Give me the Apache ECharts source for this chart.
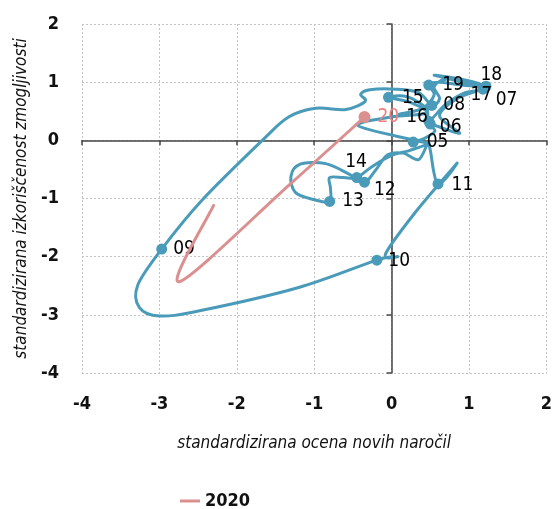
<!DOCTYPE html>
<html>
<head>
<meta charset="utf-8">
<script src="https://cdn.jsdelivr.net/npm/echarts@6/dist/echarts.min.js"></script>
<style>
  html, body { margin: 0; padding: 0; background: #ffffff; }
  #chart { width: 555px; height: 509px; }
</style>
</head>
<body>
<div id="chart"></div>
<script>
// Axis ranges
const xRange = [-4, 2];
const yRange = [-4, 2];

// Year markers of the 2005–2019 path (new orders score, capacity utilisation score)
const yearLabels = ['05', '06', '07', '08', '09', '10', '11', '12', '13', '14', '15', '16', '17', '18', '19'];
const yearPoints = [
  [0.28, -0.03], [0.50, 0.28], [1.21, 0.91], [0.52, 0.60], [-2.97, -1.87],
  [-0.19, -2.06], [0.60, -0.75], [-0.35, -0.72], [-0.80, -1.05], [-0.45, -0.64],
  [-0.04, 0.74], [0.48, 0.33], [1.18, 0.88], [1.22, 0.93], [0.48, 0.95]
];

// Readings between one year marker and the next
const pathBetween = [
  [[0.42, 0.03], [0.56, 0.16]],
  [[0.88, 0.12], [0.62, 0.42], [0.85, 0.72]],
  [[1.00, 1.00], [0.70, 1.05], [0.55, 0.92], [0.62, 0.72]],
  [[0.35, 0.82], [0.05, 0.88], [-0.28, 0.87], [-0.40, 0.79], [-0.34, 0.67], [-0.59, 0.53],
   [-0.98, 0.55], [-1.33, 0.40], [-1.67, 0.00], [-2.45, -1.03]],
  [[-3.28, -2.49], [-3.26, -2.87], [-3.00, -3.02], [-2.48, -2.93], [-1.20, -2.53]],
  [[0.08, -2.00], [-0.08, -1.96], [0.30, -1.25], [0.84, -0.40]],
  [[0.50, -0.17], [0.47, -0.05], [0.35, -0.33], [0.15, -0.22], [-0.05, -0.25], [-0.20, -0.50]],
  [[-0.55, -0.58], [-0.85, -0.40], [-1.18, -0.41], [-1.30, -0.62], [-1.24, -0.90], [-1.00, -1.02]],
  [[-0.79, -0.82], [-0.80, -0.64], [-0.62, -0.64]],
  [[-0.25, -0.45], [0.00, -0.26], [0.22, -0.18], [0.46, -0.06], [0.30, 0.00], [-0.43, 0.25],
   [0.00, 0.40], [0.45, 0.47], [0.25, 0.65]],
  [[0.20, 0.75], [0.45, 0.55]],
  [[0.70, 0.62], [0.95, 0.82]],
  [[0.85, 1.02], [0.55, 1.12], [0.90, 1.05]],
  [[0.90, 0.95], [0.62, 1.00]],
  [[0.55, 0.78], [0.40, 0.55], [0.10, 0.45]]
];

// 2020 readings
const label2020 = '20';
const points2020 = [[-0.35, 0.40], [-1.30, -0.74], [-2.74, -2.43], [-2.30, -1.12]];

// Label nudges (px) for each year tag
const labelShift = [
  [3, 0], [-1, 3], [0, 13], [1, 0], [1, 0],
  [1, 1], [3, 1], [-1, 8], [2, 0], [-22, -15],
  [3, 1], [-33, -4], [-23, 6], [-16, -11], [3, 0]
];
const shift2020 = [2, 0];

const FONT = "'Liberation Sans Narrow', 'DejaVu Sans Condensed', sans-serif";
const BLUE = '#4a9aba';
const PINK = '#db8f8f';

// Full blue path in time order
const bluePath = [];
yearPoints.forEach((p, i) => {
  bluePath.push(p);
  pathBetween[i].forEach(q => bluePath.push(q));
});

// Smooth curve through the points (cubic Bézier, tangents from neighbouring points)
function curveRenderer(points, color) {
  return function (params, api) {
    if (params.dataIndex !== 0) return null;
    const px = points.map(p => api.coord(p));
    const k = 1 / 6;
    let d = 'M' + px[0][0] + ' ' + px[0][1];
    for (let i = 0; i < px.length - 1; i++) {
      const p0 = px[i - 1] || px[i];
      const p1 = px[i];
      const p2 = px[i + 1];
      const p3 = px[i + 2] || p2;
      const c1x = p1[0] + (p2[0] - p0[0]) * k, c1y = p1[1] + (p2[1] - p0[1]) * k;
      const c2x = p2[0] - (p3[0] - p1[0]) * k, c2y = p2[1] - (p3[1] - p1[1]) * k;
      d += ' C' + c1x + ' ' + c1y + ' ' + c2x + ' ' + c2y + ' ' + p2[0] + ' ' + p2[1];
    }
    return {
      type: 'path',
      shape: { pathData: d },
      style: { fill: 'none', stroke: color, lineWidth: 3, lineCap: 'round', lineJoin: 'round' }
    };
  };
}

const gridLine = { show: true, lineStyle: { color: '#c4c4c4', type: [2, 2], width: 1 } };
const tickLabel = { color: '#111', fontFamily: FONT, fontSize: 18, fontWeight: 'bold' };
const labelFont = { fontFamily: FONT, fontSize: 19 };

const chart = echarts.init(document.getElementById('chart'), null, { renderer: 'canvas' });
chart.setOption({
  animation: false,
  backgroundColor: '#ffffff',
  grid: { left: 82, right: 7, top: 24, bottom: 136, containLabel: false },
  xAxis: [
    {
      type: 'value', min: xRange[0], max: xRange[1], interval: 1, position: 'bottom',
      axisLine: { show: false, onZero: false }, axisTick: { show: false },
      axisLabel: Object.assign({ margin: 22 }, tickLabel),
      splitLine: gridLine,
      name: 'standardizirana ocena novih naročil', nameLocation: 'middle', nameGap: 62,
      nameTextStyle: { color: '#111', fontFamily: FONT, fontSize: 17, fontStyle: 'italic' }
    },
    {
      type: 'value', min: xRange[0], max: xRange[1], interval: 1, position: 'bottom',
      axisLine: { show: true, onZero: true, onZeroAxisIndex: 1, lineStyle: { color: '#444', width: 1.5 } },
      axisTick: { show: true, length: 5, lineStyle: { color: '#444', width: 1.5 } },
      axisLabel: { show: false }, splitLine: { show: false }
    }
  ],
  yAxis: [
    {
      type: 'value', min: yRange[0], max: yRange[1], interval: 1, position: 'left',
      axisLine: { show: false, onZero: false }, axisTick: { show: false },
      axisLabel: Object.assign({ margin: 23 }, tickLabel),
      splitLine: gridLine,
      name: 'standardizirana izkoriščenost zmogljivosti', nameLocation: 'middle', nameGap: 50,
      nameTextStyle: { color: '#111', fontFamily: FONT, fontSize: 17, fontStyle: 'italic' }
    },
    {
      type: 'value', min: yRange[0], max: yRange[1], interval: 1, position: 'left',
      axisLine: { show: true, onZero: true, onZeroAxisIndex: 1, lineStyle: { color: '#444', width: 1.5 } },
      axisTick: { show: true, length: 5, lineStyle: { color: '#444', width: 1.5 } },
      axisLabel: { show: false }, splitLine: { show: false }
    }
  ],
  legend: {
    data: [{ name: '2020', icon: 'rect' }], left: 180, top: 492, padding: 0,
    itemWidth: 20, itemHeight: 3, itemGap: 6,
    textStyle: { color: '#111', fontFamily: FONT, fontSize: 18, fontWeight: 'bold' }
  },
  series: [
    {
      name: '2005–2019', type: 'custom', xAxisIndex: 0, yAxisIndex: 0,
      data: bluePath, renderItem: curveRenderer(bluePath, BLUE),
      itemStyle: { color: BLUE }, z: 3, silent: true
    },
    {
      name: '2005–2019', type: 'scatter', xAxisIndex: 0, yAxisIndex: 0,
      data: yearPoints.map((p, i) => ({
        value: p,
        label: { show: true, formatter: yearLabels[i], offset: labelShift[i] }
      })),
      symbol: 'circle', symbolSize: 11, itemStyle: { color: BLUE, opacity: 1 },
      label: Object.assign({ position: 'right', distance: 5, color: '#000' }, labelFont),
      z: 5
    },
    {
      name: '2020', type: 'custom', xAxisIndex: 0, yAxisIndex: 0,
      data: points2020, renderItem: curveRenderer(points2020, PINK),
      itemStyle: { color: PINK }, z: 6, silent: true
    },
    {
      name: '2020', type: 'scatter', xAxisIndex: 0, yAxisIndex: 0,
      data: [{ value: points2020[0], label: { show: true, formatter: label2020, offset: shift2020 } }],
      symbol: 'circle', symbolSize: 12, itemStyle: { color: PINK, opacity: 1 },
      label: Object.assign({ position: 'right', distance: 5, color: '#ef7f7f' }, labelFont),
      z: 7
    }
  ]
});
</script>
</body>
</html>
